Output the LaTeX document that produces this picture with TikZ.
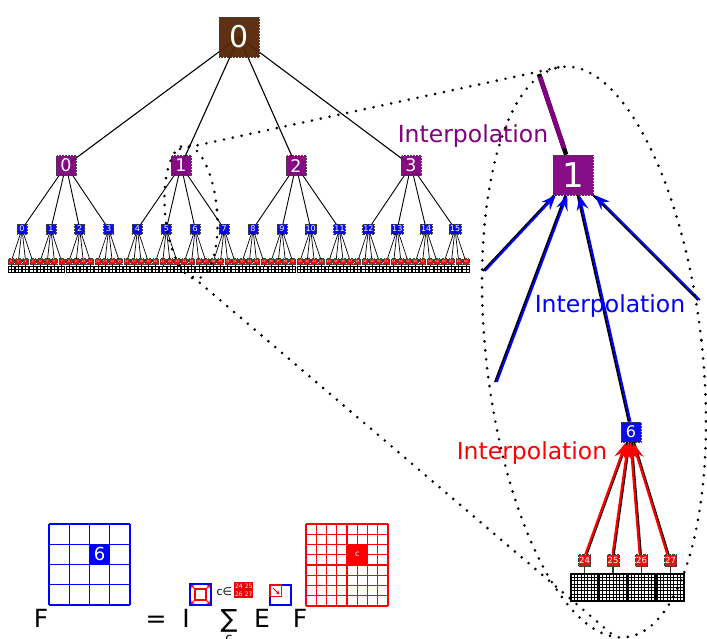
\documentclass[tikz,border=0pt]{standalone}
\usepackage{fontspec}
\setmainfont{DejaVu Sans}
\usetikzlibrary{arrows.meta,backgrounds,calc}

\definecolor{rootbrown}{RGB}{85,38,8}
\definecolor{tpurple}{RGB}{128,0,128}
\definecolor{tblue}{RGB}{0,0,235}
\definecolor{tred}{RGB}{235,0,0}
\definecolor{arrowblue}{RGB}{0,40,255}

\newcommand\setfs[1]{\fontsize{#1}{#1}\selectfont}

\tikzset{
  treenode/.style={rectangle, draw=black!75, densely dotted, line width=0.5pt,
    inner sep=0pt, text=white, fill opacity=0.95, text opacity=1, draw opacity=1},
  rootbox/.style={treenode, fill=rootbrown, minimum size=40pt, font=\setfs{30}},
  purplebox/.style={treenode, fill=tpurple, minimum size=20pt, font=\setfs{17.5}},
  bluebox/.style={treenode, fill=tblue, minimum height=10pt, minimum width=10pt,
    inner xsep=0.8pt, font=\setfs{8}},
  leafbox/.style={treenode, fill=tred, line width=0.3pt, minimum size=6pt, font=\setfs{2.8}},
  minigrid/.style={rectangle, draw=black, solid, line width=0.6pt, minimum size=6.2pt,
    inner sep=0pt, fill=white,
    path picture={
      \draw[line width=0.6pt]
        ($(path picture bounding box.south west)!0.5!(path picture bounding box.south east)$) --
        ($(path picture bounding box.north west)!0.5!(path picture bounding box.north east)$)
        ($(path picture bounding box.south west)!0.5!(path picture bounding box.north west)$) --
        ($(path picture bounding box.south east)!0.5!(path picture bounding box.north east)$);
    }},
  biggrid/.style={rectangle, draw=black, solid, line width=1.2pt, minimum size=27pt,
    inner sep=0pt, fill=white,
    path picture={
      \foreach \t in {1,...,7}{
        \draw[line width=1pt]
          ($(path picture bounding box.south west)!{\t/8}!(path picture bounding box.south east)$) --
          ($(path picture bounding box.north west)!{\t/8}!(path picture bounding box.north east)$)
          ($(path picture bounding box.south west)!{\t/8}!(path picture bounding box.north west)$) --
          ($(path picture bounding box.south east)!{\t/8}!(path picture bounding box.north east)$);
      }
    }},
  dotline/.style={line width=2.9pt, line cap=round, dash pattern=on 0pt off 9pt},
  interp/.style={anchor=base, font=\setfs{23.5}},
  formula/.style={anchor=base, font=\setfs{25}},
  bluehead/.style={-{Stealth[length=15pt,width=12pt,inset=5.5pt]}},
  redhead/.style={-{Stealth[length=17pt,width=12pt,inset=6pt]}},
}

\begin{document}
\begin{tikzpicture}[x=1pt,y=1pt]
\useasboundingbox (0,0) rectangle (707,-638);

% ---------------- full quadtree ----------------
\node[rootbox] (R) at (239,-37) {0};
\foreach \i in {0,...,3}
  \node[purplebox] (P\i) at ({66+115*\i},-165.5) {\i};
\foreach \j in {0,...,15}
  \node[bluebox] (B\j) at ({22+28.87*\j},-229) {\j};
\foreach \k in {0,...,63}{
  \pgfmathsetmacro\lx{22+28.87*floor(\k/4)+(mod(\k,4)-1.5)*7.2}
  \node[leafbox] (L\k) at (\lx,-261.5) {\k};
  \node[minigrid] (G\k) at (\lx,-269.2) {};
}

\begin{scope}[on background layer]
  \foreach \i in {0,...,3}
    \draw[line width=1.1pt] (R.center) -- (P\i.center);
  \foreach \j in {0,...,15}{
    \pgfmathtruncatemacro\jp{floor(\j/4)}
    \draw[line width=0.9pt] (P\jp.center) -- (B\j.center);
  }
  \foreach \k in {0,...,63}{
    \pgfmathtruncatemacro\kp{floor(\k/4)}
    \draw[line width=0.7pt] (B\kp.center) -- (L\k.center);
    \draw[line width=0.5pt] (L\k) -- (G\k);
  }
\end{scope}

% ---------------- magnified branch of node 1 ----------------
\node[purplebox, minimum size=40pt, font=\setfs{34}] (Z1) at (573,-175) {1};
\node[bluebox, minimum size=20pt, font=\setfs{16}] (Z6) at (631,-432) {6};
\foreach \n/\x in {24/584.5,25/613,26/641.5,27/670.5}{
  \node[leafbox, minimum size=12pt, font=\setfs{8.5}] (Z\n) at (\x,-560.5) {\n};
  \node[biggrid] (H\n) at (\x,-587.5) {};
  \draw[line width=1.2pt, black!80] (Z\n) -- (H\n);
}

\coordinate (etop) at (539,-74);
\coordinate (e1) at (483,-271);
\coordinate (e2) at (495,-382);
\coordinate (e4) at (698,-300);

\draw[line width=4.5pt] (etop) -- (Z1);
\draw[tpurple, line width=4.8pt, shorten <=2.5pt, shorten >=7pt] (etop) -- (Z1);

\foreach \e in {e1,e2,e4,Z6}{
  \draw[line width=2pt] (\e) -- (Z1);
  \draw[blue, line width=2pt, transform canvas={xshift=1.8pt}, bluehead] (\e) -- (Z1);
}
\foreach \n in {24,...,27}{
  \draw[line width=1.8pt] (Z\n) -- (Z6);
  \draw[red, line width=2.2pt, transform canvas={xshift=-1.3pt}, redhead] (Z\n) -- (Z6);
}

\node[interp, text=tpurple] (tp) at (473,-142) {Interpolation};
\node[interp, text=blue] (tb) at (610,-312) {Interpolation};
\node[interp, text=red] (tr) at (532,-459) {Interpolation};

% ---------------- zoom outlines ----------------
\draw[dotline, rotate around={5:(191,-212)}] (191,-212) ellipse [x radius=26, y radius=67];
\draw[dotline, rotate around={6.4:(594,-352)}] (594,-352) ellipse [x radius=108, y radius=287];
\coordinate (s1) at (180,-149);
\coordinate (b1) at (560,-67);
\coordinate (s2) at (193,-277);
\coordinate (b2) at (614,-636);
\draw[dotline] (s1) -- (b1);
\draw[dotline] (s2) -- (b2);

% ---------------- interpolation formula ----------------
% coarse 4x4 field with cell 6
\fill[blue] (89.5,-544.25) rectangle (109.75,-564.5);
\foreach \t in {0,...,4}{
  \draw[blue, line width=1.2pt] ({49+20.25*\t},-524) -- ({49+20.25*\t},-605);
  \draw[blue, line width=1.2pt] (49,{-524-20.25*\t}) -- (130,{-524-20.25*\t});
}
\node[text=white, font=\setfs{18}] (c6) at (99.6,-554.4) {6};

% fine 8x8 field with children c
\fill[red] (347,-544.5) rectangle (367.5,-565);
\foreach \t in {0,...,8}{
  \draw[red, line width=1.1pt] ({306+10.25*\t},-524) -- ({306+10.25*\t},-606);
  \draw[red, line width=1.1pt] (306,{-524-10.25*\t}) -- (388,{-524-10.25*\t});
}
\node[text=white, font=\setfs{8}] (cc) at (357.25,-554.75) {c};

\node[formula] (fF1) at (41,-627) {F};
\node[formula] (fEq) at (156,-627) {=};
\node[formula] (fI) at (186,-627) {I};
\node[formula] (fS) at (229,-627) {∑};
\node[anchor=base, font=\setfs{13}] (fc) at (229,-642) {c};
\node[formula] (fE) at (262,-627) {E};
\node[formula] (fF2) at (300,-627) {F};

% interpolation operator icon
\draw[blue, line width=1.2pt] (190,-584) rectangle (211,-605);
\draw[red, line width=1.5pt] (195,-589) rectangle (206,-600);
\foreach \a/\b in {{195,-589}/{190.6,-584.6},{206,-589}/{210.4,-584.6},
                   {195,-600}/{190.6,-604.4},{206,-600}/{210.4,-604.4}}
  \draw[red, line width=0.9pt, -{Stealth[length=4pt,width=4pt]}] (\a) -- (\b);

% index set of the children
\node[font=\setfs{11}] (fin) at (224.5,-592) {c∈};
\foreach \n/\x/\y in {24/238.9/-586,25/248.6/-586,26/238.9/-594.2,27/248.6/-594.2}
  \node[fill=tred, minimum width=9.2pt, minimum height=7.6pt, inner sep=0pt,
        text=white, font=\setfs{6}] (q\n) at (\x,\y) {\n};

% extraction operator icon
\draw[blue, line width=1.2pt] (270,-585) rectangle (291,-605);
\draw[red, line width=1.2pt] (270,-585) rectangle (281.5,-596.5);
\draw[red, line width=0.9pt, -{Stealth[length=4pt,width=4pt]}] (273,-588) -- (279.5,-594.5);

\end{tikzpicture}
\end{document}
